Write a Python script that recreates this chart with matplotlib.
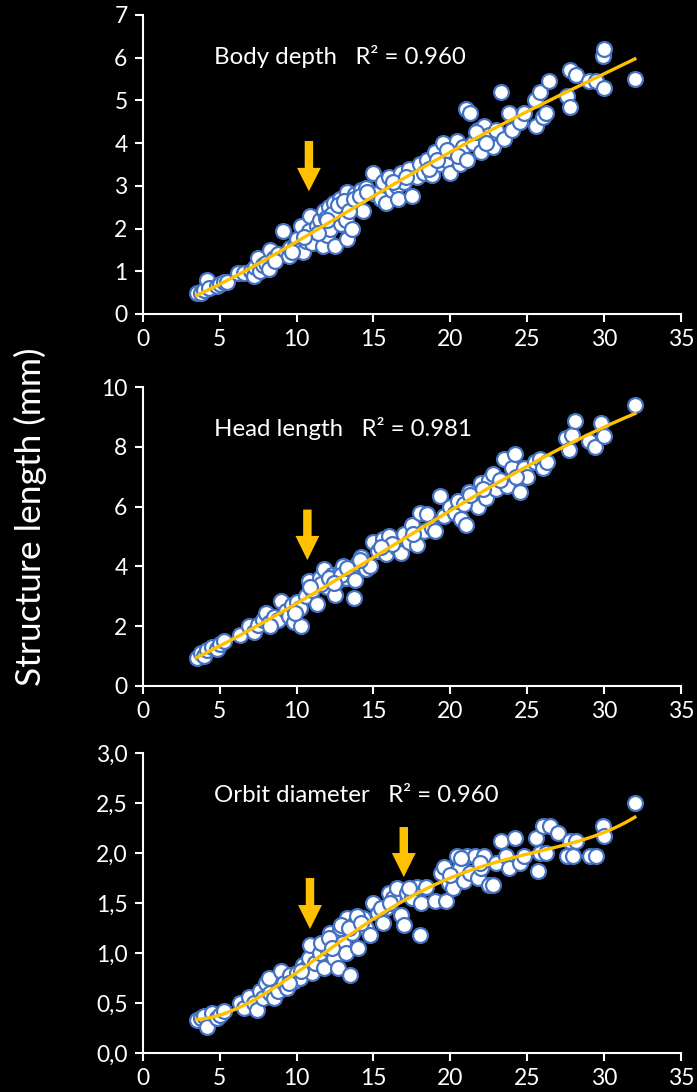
import numpy as np
import matplotlib
matplotlib.use('Agg')
import matplotlib.pyplot as plt
from matplotlib.ticker import FuncFormatter

# ---- data (SL in mm vs structure length in mm) ----
bd_x = [3.5, 3.8, 4.0, 4.2, 4.3, 4.8, 5.0, 5.3, 5.5, 6.2, 6.6, 7.0, 7.2, 7.3, 7.5, 7.6, 7.8, 8.0,
        8.2, 8.3, 8.5, 8.8, 9.1, 9.3, 9.5, 9.6, 9.9, 10.0, 10.2, 10.4, 10.3, 10.6, 10.8, 10.9, 11.0,
        11.3, 11.5, 11.7, 11.8, 12.0, 12.1, 12.2, 12.4, 12.5, 12.6, 12.8, 12.9, 13.0, 13.2, 13.3,
        13.3, 13.5, 13.6, 13.8, 14.0, 14.2, 14.5, 14.3, 15.0, 15.1, 15.5, 15.6, 15.8, 16.0, 16.2,
        16.5, 16.6, 16.8, 17.0, 17.3, 17.5, 17.8, 18.0, 18.3, 18.5, 18.8, 19.0, 19.3, 19.5, 19.7,
        20.0, 20.2, 20.4, 20.6, 20.8, 21.0, 21.3, 21.5, 21.8, 22.0, 22.2, 22.5, 22.8, 23.0, 23.3,
        23.5, 23.8, 24.0, 24.5, 24.8, 25.5, 25.6, 25.8, 26.0, 26.2, 26.4, 27.6, 27.8, 27.8, 28.2,
        29.0, 29.5, 29.9, 30.0, 30.0, 32.0,
        11.9, 12.3, 12.7, 13.1, 13.4, 13.7, 11.4, 12.0, 14.1, 18.6, 19.1, 19.8, 20.5, 21.1, 16.3,
        17.1, 9.7, 8.6, 10.5, 14.6, 22.3, 21.7]
bd_y = [0.50, 0.50, 0.55, 0.80, 0.60, 0.65, 0.70, 0.75, 0.75, 0.95, 0.95, 1.00, 0.90, 1.10, 1.30,
        1.00, 1.15, 1.20, 1.05, 1.50, 1.30, 1.40, 1.95, 1.40, 1.35, 1.55, 1.60, 1.75, 1.50, 1.45,
        2.05, 1.70, 1.95, 2.30, 1.65, 2.05, 2.20, 1.60, 2.40, 1.85, 2.50, 2.00, 2.60, 1.60, 2.30,
        2.70, 2.10, 2.45, 2.20, 1.75, 2.85, 2.60, 2.00, 2.80, 2.50, 2.90, 2.95, 2.40, 3.30, 2.80,
        2.70, 3.10, 2.60, 3.20, 2.90, 3.00, 2.70, 3.30, 3.10, 3.40, 2.75, 3.20, 3.50, 3.30, 3.60,
        3.25, 3.80, 3.50, 4.00, 3.60, 3.30, 3.80, 4.05, 3.50, 3.90, 4.80, 4.70, 4.00, 4.30, 3.80,
        4.40, 4.20, 3.90, 4.30, 5.20, 4.10, 4.70, 4.30, 4.50, 4.70, 5.00, 4.40, 5.20, 4.60, 4.70,
        5.45, 5.10, 5.70, 4.85, 5.60, 5.45, 5.45, 6.05, 6.20, 5.30, 5.50,
        2.25, 2.35, 2.55, 2.65, 2.40, 2.70, 1.90, 2.20, 2.75, 3.40, 3.60, 3.85, 3.70, 3.60, 3.10,
        3.20, 1.45, 1.25, 1.80, 2.85, 4.00, 4.25]

hl_x = [3.5, 3.8, 4.0, 4.2, 4.5, 4.8, 5.0, 5.3, 6.3, 6.9, 7.2, 7.5, 7.8, 8.0, 8.2, 8.5, 8.8, 9.0,
        9.3, 9.5, 9.7, 9.8, 10.0, 10.2, 10.3, 10.6, 10.8, 11.0, 11.3, 11.5, 11.8, 12.0, 12.3, 12.5,
        12.6, 12.8, 13.0, 13.2, 13.5, 13.7, 14.0, 14.2, 14.5, 14.8, 15.0, 15.3, 15.6, 15.8, 16.0,
        16.5, 16.8, 17.0, 17.3, 17.5, 17.8, 18.0, 18.3, 18.5, 18.8, 19.0, 19.3, 19.6, 20.0, 20.3,
        20.5, 20.7, 21.0, 21.2, 21.5, 21.8, 22.0, 22.3, 22.5, 22.8, 23.0, 23.5, 23.7, 24.0, 24.2,
        24.5, 24.8, 25.0, 25.5, 25.8, 26.0, 26.3, 27.5, 27.7, 27.9, 28.1, 29.0, 29.4, 29.8, 30.0,
        32.0,
        11.6, 12.1, 12.9, 13.3, 13.8, 14.1, 10.9, 9.9, 8.3, 16.2, 17.6, 20.9, 21.3, 22.1, 23.2,
        24.3, 15.5, 12.4]
hl_y = [0.95, 1.10, 1.00, 1.20, 1.30, 1.25, 1.40, 1.50, 1.70, 2.00, 1.80, 2.05, 2.20, 2.45, 2.10,
        2.30, 2.20, 2.85, 2.50, 2.35, 2.70, 2.15, 2.80, 2.60, 2.00, 3.00, 3.50, 3.20, 2.75, 3.60,
        3.90, 3.30, 3.70, 3.05, 3.50, 3.80, 4.00, 3.60, 3.85, 2.95, 4.10, 4.30, 3.90, 4.00, 4.80,
        4.50, 4.90, 4.40, 5.00, 4.60, 4.45, 5.10, 4.80, 5.40, 4.70, 5.80, 5.20, 5.75, 5.30, 5.20,
        6.35, 5.70, 6.00, 5.80, 6.20, 5.60, 5.40, 6.50, 6.20, 6.00, 6.80, 6.30, 6.90, 7.10, 6.60,
        7.60, 6.70, 7.30, 7.75, 6.50, 7.30, 7.00, 7.50, 7.60, 7.30, 7.50, 8.30, 7.90, 8.40, 8.85,
        8.20, 8.00, 8.80, 8.35, 9.40,
        3.40, 3.60, 3.70, 3.95, 3.55, 4.20, 3.30, 2.45, 2.00, 4.75, 5.10, 6.10, 6.40, 6.60, 6.90,
        7.00, 4.65, 3.45]

od_x = [3.5, 3.8, 4.0, 4.2, 4.5, 4.8, 5.0, 5.3, 6.3, 6.6, 6.9, 7.2, 7.4, 7.6, 7.8, 8.0, 8.2, 8.3,
        8.5, 8.8, 9.0, 9.2, 9.4, 9.6, 9.8, 10.0, 10.2, 10.4, 10.6, 10.8, 10.9, 11.0, 11.2, 11.5,
        11.8, 12.0, 12.2, 12.4, 12.5, 12.7, 12.8, 13.0, 13.2, 13.3, 13.5, 13.6, 13.8, 14.0, 14.3,
        14.5, 14.8, 15.0, 15.3, 15.6, 15.8, 16.0, 16.3, 16.5, 16.8, 17.0, 17.2, 17.5, 17.8, 18.0,
        18.1, 18.4, 19.0, 19.4, 19.6, 19.7, 19.9, 20.2, 20.4, 20.6, 20.9, 21.1, 21.3, 21.6, 21.8,
        22.0, 22.2, 22.5, 22.8, 23.0, 23.3, 23.6, 23.8, 24.2, 24.5, 24.8, 25.6, 25.7, 25.8, 26.0,
        26.2, 26.5, 27.0, 27.6, 27.8, 28.0, 28.2, 29.1, 29.5, 29.9, 30.0, 32.0,
        11.6, 12.1, 12.9, 13.4, 13.9, 14.2, 10.3, 9.5, 15.5, 16.1, 17.3, 20.0, 20.7, 21.9, 12.3]
od_y = [0.33, 0.35, 0.37, 0.26, 0.40, 0.35, 0.38, 0.42, 0.50, 0.45, 0.56, 0.50, 0.43, 0.62, 0.55,
        0.70, 0.75, 0.60, 0.55, 0.62, 0.82, 0.70, 0.65, 0.78, 0.72, 0.80, 0.75, 0.88, 0.85, 0.95,
        1.08, 0.80, 0.90, 1.00, 0.85, 1.05, 1.20, 0.95, 1.15, 0.85, 1.25, 1.10, 1.00, 1.35, 0.78,
        1.20, 1.30, 1.05, 1.35, 1.25, 1.18, 1.50, 1.40, 1.30, 1.45, 1.60, 1.55, 1.65, 1.38, 1.28,
        1.60, 1.55, 1.66, 1.18, 1.50, 1.66, 1.52, 1.80, 1.86, 1.52, 1.70, 1.65, 1.97, 1.85, 1.72,
        1.97, 1.80, 1.97, 1.75, 1.85, 1.97, 1.68, 1.68, 1.90, 2.12, 1.97, 1.85, 2.15, 1.90, 1.97,
        2.15, 1.82, 2.00, 2.27, 2.00, 2.27, 2.20, 1.97, 2.12, 1.97, 2.12, 1.97, 1.97, 2.27, 2.17,
        2.50,
        1.10, 1.15, 1.28, 1.25, 1.37, 1.30, 0.82, 0.70, 1.45, 1.50, 1.65, 1.78, 1.95, 1.90, 1.05]

panels = [
    ('Body depth   R² = 0.960', bd_x, bd_y, 7, 1, 4, [(10.8, 4.05, 1.18, 0.55)]),
    ('Head length   R² = 0.981', hl_x, hl_y, 10, 2, 3, [(10.7, 5.9, 1.69, 0.81)]),
    ('Orbit diameter   R² = 0.960', od_x, od_y, 3, 0.5, 4,
     [(10.87, 1.75, 0.51, 0.24), (16.97, 2.26, 0.50, 0.24)]),
]

blue = '#4472C4'
gold = '#FFC000'
plt.rcParams['font.family'] = ['Lato', 'DejaVu Sans']

fig = plt.figure(figsize=(6.97, 10.92), dpi=100, facecolor='black')
boxes = [(0.205, 0.7125, 0.772, 0.2738), (0.205, 0.3718, 0.772, 0.2738),
         (0.205, 0.0357, 0.772, 0.2747)]

for (label, xs, ys, ymax, ystep, deg, arrows), box in zip(panels, boxes):
    ax = fig.add_axes(box, facecolor='black')
    xs = np.array(xs)
    ys = np.array(ys)
    ax.scatter(xs, ys, s=115, facecolor='white', edgecolor=blue, linewidth=1.6, zorder=2)
    coef = np.polyfit(xs, ys, deg)
    xx = np.linspace(xs.min(), xs.max(), 200)
    ax.plot(xx, np.polyval(coef, xx), color=gold, lw=2.4, zorder=3)
    for ax_x, top, length, hl in arrows:
        ax.arrow(ax_x, top, 0, -length, width=0.55, head_width=1.55, head_length=hl,
                 length_includes_head=True, color=gold, lw=0, zorder=4)
    ax.text(0.133, 0.86, label, transform=ax.transAxes, color='white', fontsize=17.3,
            va='center', ha='left')
    ax.set_xlim(0, 35)
    ax.set_ylim(0, ymax)
    ax.set_xticks(np.arange(0, 36, 5))
    ax.set_yticks(np.arange(0, ymax + ystep / 2, ystep))
    if ystep < 1:
        ax.yaxis.set_major_formatter(FuncFormatter(lambda v, p: f'{v:.1f}'.replace('.', ',')))
    for s in ['top', 'right']:
        ax.spines[s].set_visible(False)
    for s in ['left', 'bottom']:
        ax.spines[s].set_color('white')
        ax.spines[s].set_linewidth(1.5)
    ax.tick_params(colors='white', labelsize=16.5, width=1.5, length=6, direction='out', pad=5)
    for t in ax.get_xticklabels() + ax.get_yticklabels():
        t.set_clip_on(False)

fig.text(0.043, 0.527, 'Structure length (mm)', rotation=90, color='white', fontsize=25.5,
         va='center', ha='center')

fig.savefig('out.png', dpi=100, facecolor='black')
